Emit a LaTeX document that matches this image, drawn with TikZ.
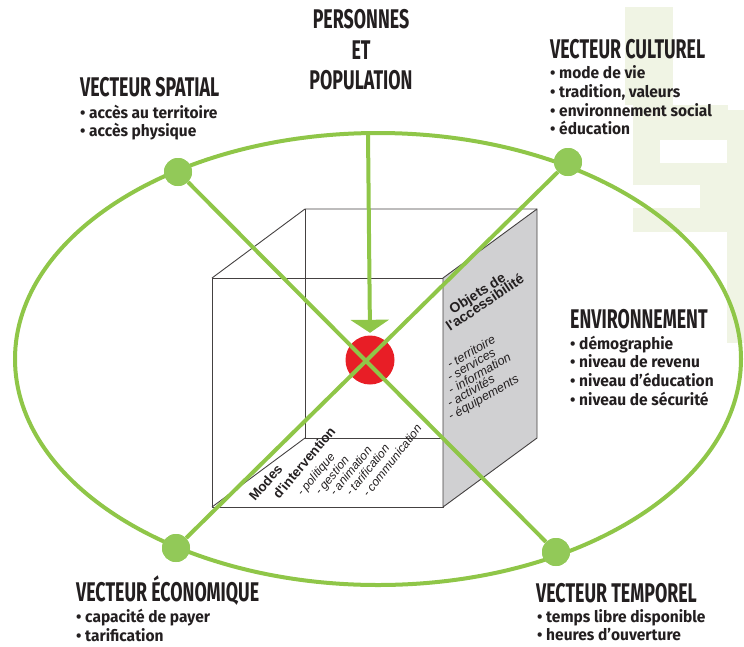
\documentclass[tikz,border=0pt]{standalone}
\usepackage{fontspec}
\setmainfont{Fira Sans}
\newfontfamily\headfont[FakeStretch=0.66]{Fira Sans}
\newfontfamily\listfont[FakeStretch=0.97]{Fira Sans}
\newfontfamily\cubefont{Liberation Sans}
\usetikzlibrary{arrows.meta}
\definecolor{leaf}{RGB}{143,198,72}
\definecolor{leafdot}{RGB}{146,201,88}
\definecolor{corered}{RGB}{232,30,38}
\definecolor{wash}{RGB}{240,244,228}
\definecolor{facegray}{RGB}{208,208,210}
\definecolor{ink}{RGB}{35,31,32}

\begin{document}
\begin{tikzpicture}[x=1pt,y=-1pt,
  gline/.style={draw=leaf,line width=4pt},
  dot/.style={circle,fill=leafdot,inner sep=0pt,minimum size=28pt},
  edge/.style={draw=ink!85,line width=0.9pt,line join=round},
  head/.style={anchor=base west,inner sep=0pt,text=ink,
    font=\headfont\bfseries\fontsize{27}{31}\selectfont},
  headc/.style={head,anchor=base},
  item/.style={anchor=base west,inner sep=0pt,text=ink,
    font=\listfont\bfseries\fontsize{16}{18}\selectfont},
  cubetitle/.style={anchor=base west,inner sep=0pt,text=ink,
    font=\cubefont\bfseries\fontsize{14}{16}\selectfont},
  cubeitem/.style={anchor=base west,inner sep=0pt,text=ink,
    font=\cubefont\itshape\fontsize{12.5}{14}\selectfont}]

\useasboundingbox (0,0) rectangle (744,646);

% pale lettering in the background
\fill[wash] (625,7) rectangle (673,105);
\fill[wash] (633,105) rectangle (728,232);
\fill[white] (660,140) rectangle (728,163);
\fill[white] (633,185) rectangle (700,208);
\fill[wash] (727,110) rectangle (744,343);

% cube corners
\coordinate (f1) at (212,278);
\coordinate (f2) at (443,278);
\coordinate (f3) at (443,507);
\coordinate (f4) at (212,507);
\coordinate (b1) at (305,209);
\coordinate (b2) at (537,209);
\coordinate (b3) at (537,438);
\coordinate (b4) at (305,438);

% cube: back edges, front face, shaded side face
\draw[edge] (b4) -- (b3);
\draw[edge] (b1) -- (b4);
\draw[edge] (f4) -- (b4);
\draw[edge] (f1) -- (b1) -- (b2);
\draw[edge] (f1) -- (f2) -- (f3) -- (f4) -- cycle;
\filldraw[edge,fill=facegray] (f2) -- (b2) -- (b3) -- (f3) -- cycle;

% bottom face labels
\node[cubetitle,font=\cubefont\bfseries\fontsize{13.5}{16}\selectfont,rotate=49] (modes) at (255,502) {Modes};
\node[cubetitle,font=\cubefont\bfseries\fontsize{13.5}{16}\selectfont,rotate=50] (interv) at (279,500) {d'intervention};
\node[cubeitem,font=\cubefont\itshape\fontsize{12}{14}\selectfont,rotate=50] (m1) at (302,497) {- politique};
\node[cubeitem,font=\cubefont\itshape\fontsize{12}{14}\selectfont,rotate=50] (m2) at (320,496) {- gestion};
\node[cubeitem,font=\cubefont\itshape\fontsize{12}{14}\selectfont,rotate=51] (m3) at (335,497) {- animation};
\node[cubeitem,font=\cubefont\itshape\fontsize{12}{14}\selectfont,rotate=51] (m4) at (351,497) {- tarification};
\node[cubeitem,font=\cubefont\itshape\fontsize{12}{14}\selectfont,rotate=52] (m5) at (368,498) {- communication};

% side face labels
\node[cubetitle,rotate=33] (obj) at (453,315) {Objets de};
\node[cubetitle,rotate=34] (acc) at (450,332) {l'accessibilité};
\node[cubeitem,rotate=30] (o1) at (450,369) {- territoire};
\node[cubeitem,rotate=30] (o2) at (450,382) {- services};
\node[cubeitem,rotate=30] (o3) at (451,395) {-\,\,information};
\node[cubeitem,rotate=30] (o4) at (450,408) {- activités};
\node[cubeitem,rotate=30] (o5) at (451,421) {- équipements};

% orbit
\draw[gline] (378,359) ellipse [x radius=363, y radius=226];
\coordinate (ptop) at (368,133);

% centre
\node[circle,fill=corered,inner sep=0pt,minimum size=49pt] (core) at (370,360) {};

% vector nodes and axes
\node[dot] (sp) at (178,172) {};
\node[dot] (cu) at (568,162) {};
\node[dot] (ec) at (176,548) {};
\node[dot] (tp) at (556,552) {};
\draw[gline] (sp) -- (tp);
\draw[gline] (cu) -- (ec);
\node[dot] at (sp) {};
\node[dot] at (cu) {};
\node[dot] at (ec) {};
\node[dot] at (tp) {};

% people arrow
\draw[gline,-{Triangle[width=38pt,length=13pt]},shorten >=2.5pt] (ptop) -- (core.north);

% titles
\node[headc] (pers1) at (361,28) {PERSONNES};
\node[headc] (pers2) at (361,59) {ET};
\node[headc] (pers3) at (361,89) {POPULATION};

\node[head] (spT) at (80,96) {VECTEUR SPATIAL};
\node[item] (sp1) at (80,118) {• accès au territoire};
\node[item] (sp2) at (80,136) {• accès physique};

\node[head] (cuT) at (550,58) {VECTEUR CULTUREL};
\node[item] (cu1) at (550,78) {• mode de vie};
\node[item] (cu2) at (550,97) {• tradition, valeurs};
\node[item] (cu3) at (550,116) {• environnement social};
\node[item] (cu4) at (550,134) {• éducation};

\node[head] (enT) at (570,328) {ENVIRONNEMENT};
\node[item] (en1) at (570,349) {• démographie};
\node[item] (en2) at (570,367) {• niveau de revenu};
\node[item] (en3) at (570,386) {• niveau d’éducation};
\node[item] (en4) at (570,405) {• niveau de sécurité};

\node[head] (ecT) at (76,601) {VECTEUR ÉCONOMIQUE};
\node[item] (ec1) at (76,622) {• capacité de payer};
\node[item] (ec2) at (76,641) {• tarification};

\node[head] (tpT) at (536,602) {VECTEUR TEMPOREL};
\node[item] (tp1) at (537,622) {• temps libre disponible};
\node[item] (tp2) at (537,640) {• heures d’ouverture};

\end{tikzpicture}
\end{document}
